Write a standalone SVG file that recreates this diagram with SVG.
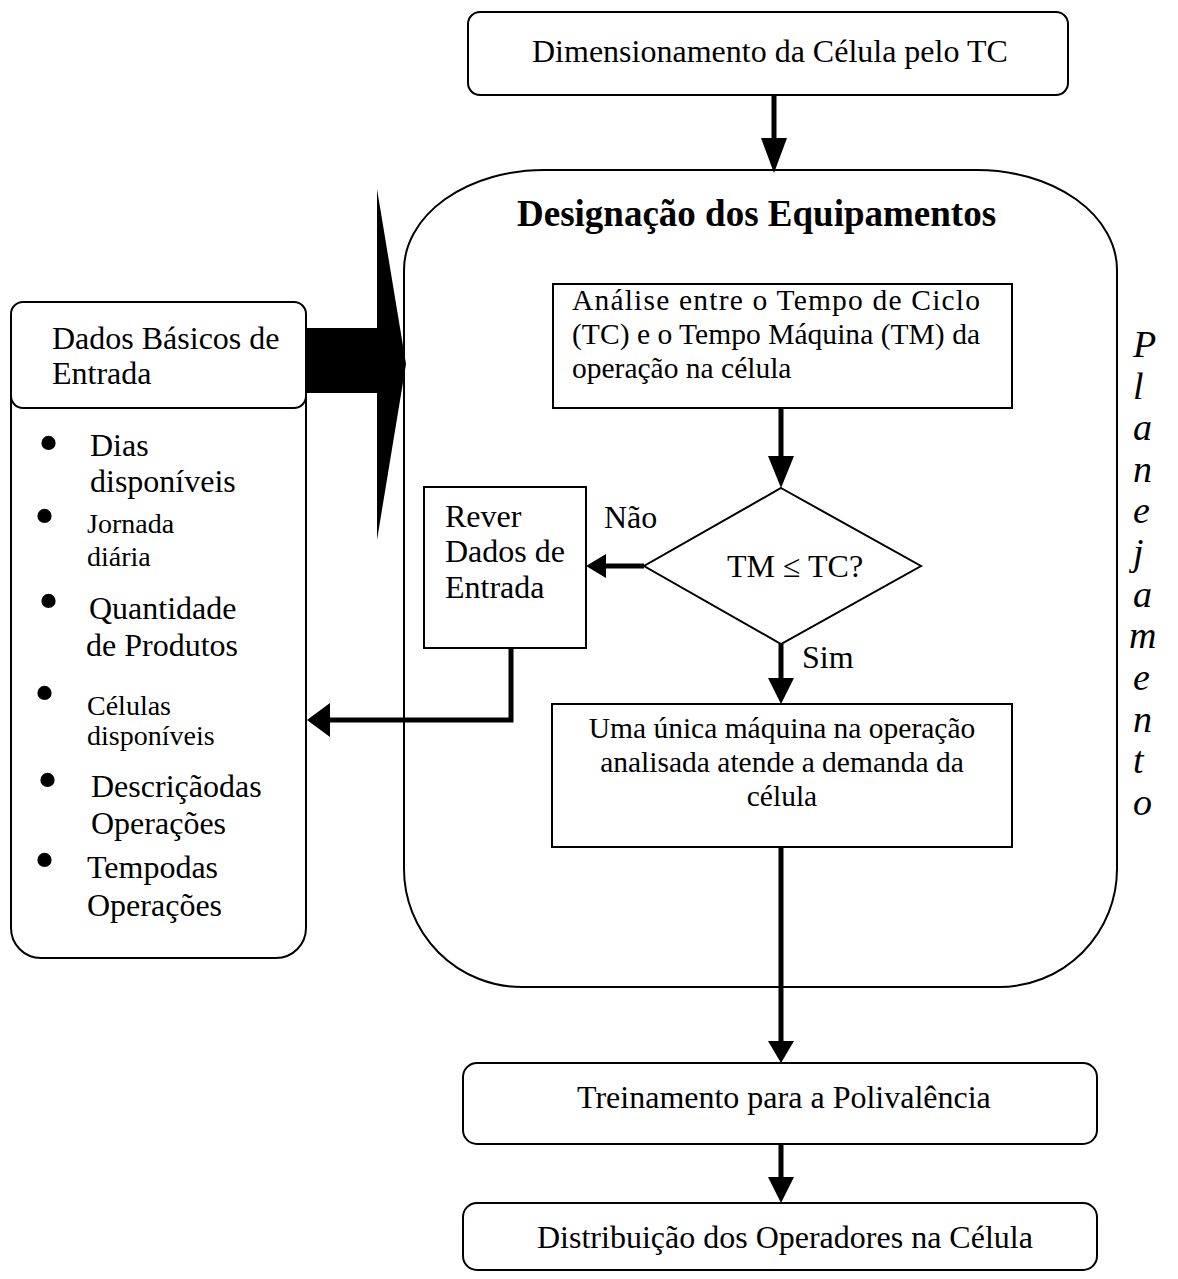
<svg xmlns="http://www.w3.org/2000/svg" width="1178" height="1279" viewBox="0 0 1178 1279">
<style>
text{font-family:"Liberation Serif","Times New Roman",serif;fill:#000}
.t{font-size:32px}
.m{font-size:29.5px}
.s{font-size:28px}
.b{font-size:37px;font-weight:bold}
.i{font-size:38px;font-style:italic}
.box{fill:#fff;stroke:#000;stroke-width:2}
.ln{stroke:#000;stroke-width:5;fill:none}
.hd{fill:#000;stroke:none}
.bul{font-size:60px}
</style>
<rect width="1178" height="1279" fill="#fff"/>

<g id="big-box">
<path class="box" d="M544,170 H977 A140,100 0 0 1 1117,270 V869 A118,118 0 0 1 999,987 H522 A118,118 0 0 1 404,869 V270 A140,100 0 0 1 544,170 Z"/>
<text class="b" x="517" y="226">Designação dos Equipamentos</text>
</g>

<g id="top-box">
<rect class="box" x="468" y="12" width="600" height="83" rx="12"/>
<text class="t" x="532" y="62">Dimensionamento da Célula pelo TC</text>
</g>

<g id="entrada">
<rect class="box" x="11" y="302" width="295" height="656" rx="30"/>
<rect class="box" x="11" y="302" width="295" height="106" rx="12"/>
<text class="t" x="52" y="349">Dados Básicos de</text>
<text class="t" x="52" y="384">Entrada</text>
<text class="bul" x="38" y="463">•</text>
<text class="t" x="90" y="456">Dias</text>
<text class="t" x="90" y="492">disponíveis</text>
<text class="bul" x="34" y="536">•</text>
<text class="s" x="87" y="533">Jornada</text>
<text class="s" x="87" y="566">diária</text>
<text class="bul" x="38" y="621">•</text>
<text class="t" x="89" y="619">Quantidade</text>
<text class="t" x="86" y="656">de Produtos</text>
<text class="bul" x="34" y="713">•</text>
<text class="s" x="87" y="715">Células</text>
<text class="s" x="87" y="745">disponíveis</text>
<text class="bul" x="37" y="800">•</text>
<text class="t" x="91" y="797">Descriçãodas</text>
<text class="t" x="91" y="834">Operações</text>
<text class="bul" x="34" y="880">•</text>
<text class="t" x="87" y="878">Tempodas</text>
<text class="t" x="87" y="916">Operações</text>
</g>

<g id="analise">
<rect class="box" x="553" y="284" width="459" height="124"/>
<text class="m" x="572" y="310" textLength="408" lengthAdjust="spacing">Análise entre o Tempo de Ciclo</text>
<text class="m" x="572" y="344" textLength="408" lengthAdjust="spacing">(TC) e o Tempo Máquina (TM) da</text>
<text class="m" x="572" y="378">operação na célula</text>
</g>

<g id="decisao">
<polygon class="box" points="781,488 921,566 781,644 644,566"/>
<text class="t" x="727" y="577">TM ≤ TC?</text>
</g>

<g id="rever">
<rect class="box" x="424" y="487" width="162" height="161"/>
<text class="t" x="445" y="527">Rever</text>
<text class="t" x="445" y="562">Dados de</text>
<text class="t" x="445" y="598">Entrada</text>
</g>

<g id="maquina">
<rect class="box" x="552" y="704" width="460" height="143"/>
<text class="m" x="782" y="738" text-anchor="middle">Uma única máquina na operação</text>
<text class="m" x="782" y="772" text-anchor="middle">analisada atende a demanda da</text>
<text class="m" x="782" y="806" text-anchor="middle">célula</text>
</g>

<g id="treinamento">
<rect class="box" x="463" y="1063" width="634" height="81" rx="14"/>
<text class="t" x="577" y="1108">Treinamento para a Polivalência</text>
</g>

<g id="distribuicao">
<rect class="box" x="463" y="1203" width="634" height="67" rx="14"/>
<text class="t" x="537" y="1248">Distribuição dos Operadores na Célula</text>
</g>

<g id="planejamento">
<text class="i" x="1133" y="357">P</text>
<text class="i" x="1133" y="399">l</text>
<text class="i" x="1133" y="440">a</text>
<text class="i" x="1133" y="482">n</text>
<text class="i" x="1133" y="523">e</text>
<text class="i" x="1133" y="565">j</text>
<text class="i" x="1133" y="607">a</text>
<text class="i" x="1129" y="648">m</text>
<text class="i" x="1133" y="690">e</text>
<text class="i" x="1133" y="732">n</text>
<text class="i" x="1133" y="773">t</text>
<text class="i" x="1133" y="815">o</text>
</g>

<g id="connectors">
<line class="ln" x1="774" y1="95" x2="774" y2="140"/>
<polygon class="hd" points="761,138 787,138 774,173"/>
<rect class="hd" x="307" y="328" width="71" height="65"/>
<polygon class="hd" points="377,189 406,364 377,540"/>
<line class="ln" x1="781" y1="408" x2="781" y2="460"/>
<polygon class="hd" points="768,456 794,456 781,488"/>
<line class="ln" x1="644" y1="566" x2="604" y2="566"/>
<polygon class="hd" points="606,554 606,578 586,566"/>
<text class="t" x="604" y="528">Não</text>
<line class="ln" x1="781" y1="644" x2="781" y2="682"/>
<polygon class="hd" points="768,678 794,678 781,704"/>
<text class="t" x="802" y="668">Sim</text>
<polyline class="ln" points="511,648 511,720 326,720"/>
<polygon class="hd" points="330,703 330,737 307,720"/>
<line class="ln" x1="781" y1="847" x2="781" y2="1045"/>
<polygon class="hd" points="768,1041 794,1041 781,1063"/>
<line class="ln" x1="781" y1="1144" x2="781" y2="1180"/>
<polygon class="hd" points="768,1177 794,1177 781,1203"/>
</g>
</svg>
